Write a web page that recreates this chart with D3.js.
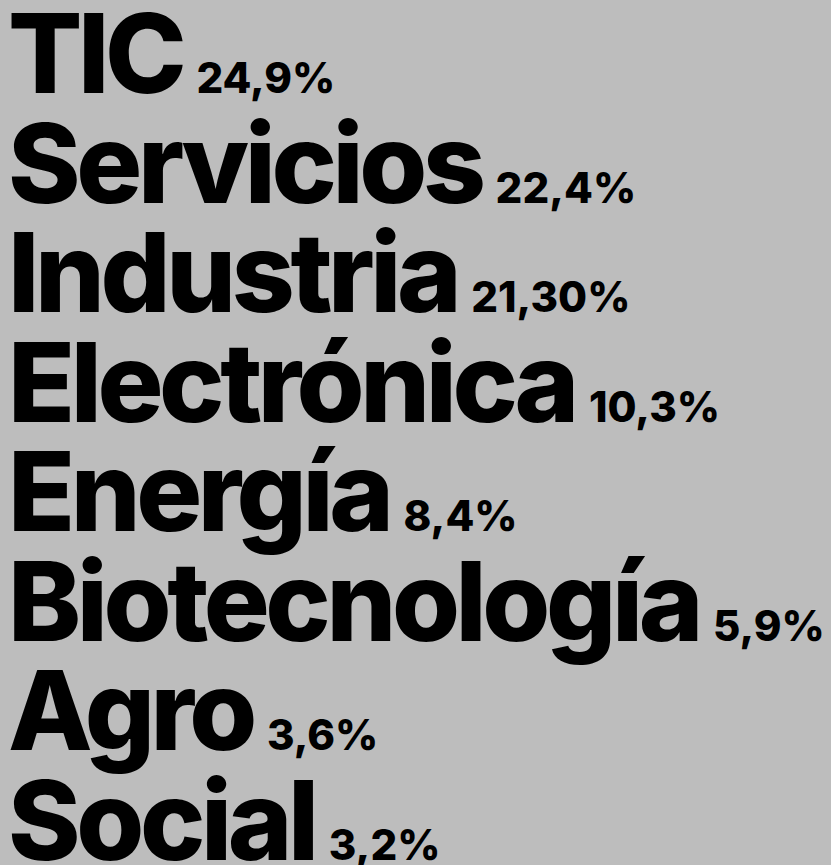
<!DOCTYPE html>
<html>
<head>
<meta charset="utf-8">
<script src="https://cdn.jsdelivr.net/npm/d3@7"></script>
<style>
  html, body { margin: 0; padding: 0; background: #bdbdbd; }
  svg { display: block; }
</style>
</head>
<body>
<div id="chart"></div>
<script>
// sectors and share of companies
const categories = ["TIC", "Servicios", "Industria", "Electrónica", "Energía", "Biotecnología", "Agro", "Social"];
const values = [24.9, 22.4, 21.3, 10.3, 8.4, 5.9, 3.6, 3.2];
const valueLabels = ["24,9%", "22,4%", "21,30%", "10,3%", "8,4%", "5,9%", "3,6%", "3,2%"];

const width = 831, height = 865;
const margin = { top: 93, bottom: 5, left: 8 };

const svg = d3.select("#chart").append("svg")
    .attr("width", width)
    .attr("height", height);

svg.append("rect")
    .attr("width", width)
    .attr("height", height)
    .attr("fill", "#bdbdbd");

// baseline of each row
const y = d3.scalePoint()
    .domain(categories)
    .range([margin.top, height - margin.bottom]);

const rows = svg.selectAll(".row")
    .data(categories.map((c, i) => ({ name: c, value: values[i], label: valueLabels[i] })))
    .enter().append("g")
    .attr("class", "row")
    .attr("transform", d => `translate(${margin.left},${y(d.name)})`);

rows.append("text")
    .attr("class", "name")
    .attr("font-family", "Inter, 'Noto Sans', sans-serif")
    .attr("font-weight", 800)
    .attr("font-size", "110px")
    .attr("letter-spacing", "-0.04em")
    .attr("fill", "#000")
    .text(d => d.name);

// value sits right after the word
rows.each(function() {
    const g = d3.select(this);
    const w = g.select(".name").node().getComputedTextLength();
    g.append("text")
        .attr("x", w + 14)
        .attr("font-family", "Inter, 'Noto Sans', sans-serif")
        .attr("font-weight", 800)
        .attr("font-size", "42px")
        .attr("letter-spacing", "0")
        .attr("fill", "#000")
        .text(d => d.label);
});
</script>
</body>
</html>
